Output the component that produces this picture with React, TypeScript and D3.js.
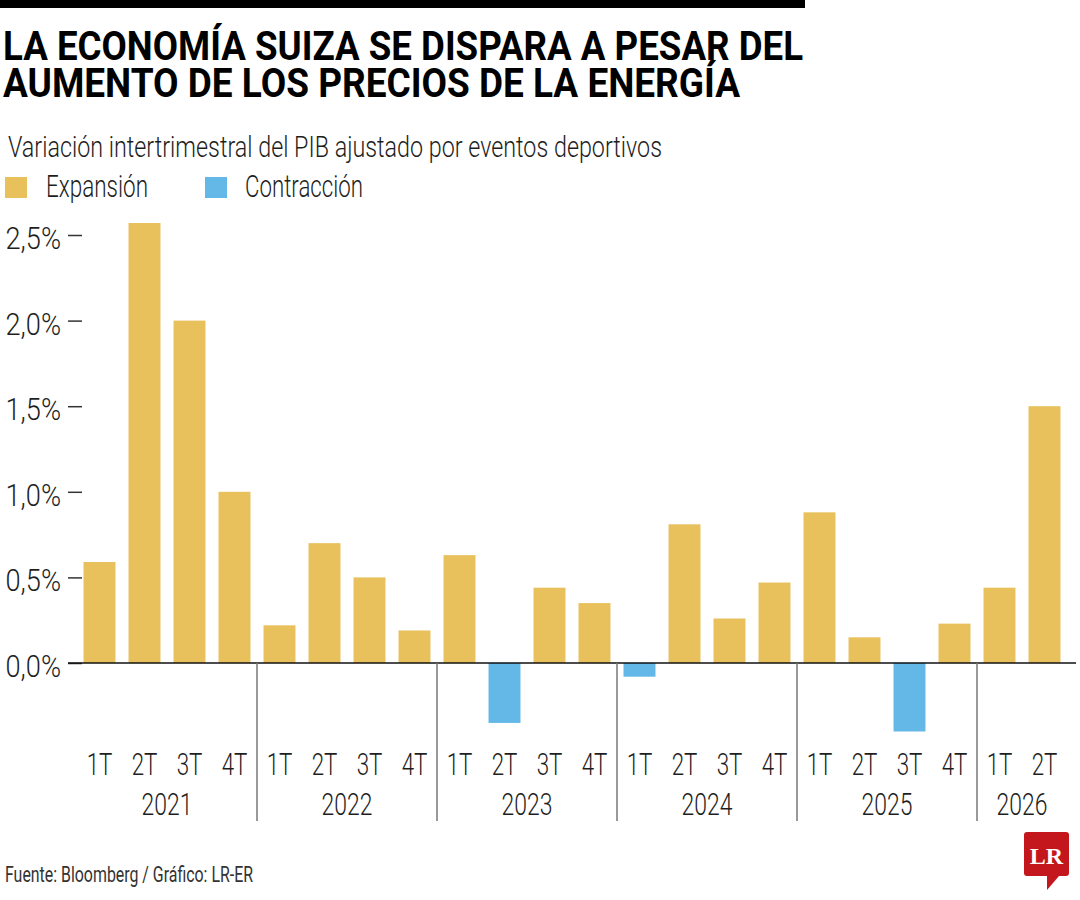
import React, { useEffect, useRef } from 'react';
import * as d3 from 'd3';

// Datos: variación intertrimestral del PIB suizo (%)
const years = ['2021', '2022', '2023', '2024', '2025', '2026'];
const quarters = ['1T', '2T', '3T', '4T'];
const gdpChange = [
  0.59, 2.57, 2.0, 1.0,
  0.22, 0.70, 0.50, 0.19,
  0.63, -0.35, 0.44, 0.35,
  -0.08, 0.81, 0.26, 0.47,
  0.88, 0.15, -0.40, 0.23,
  0.44, 1.50,
];
const yTicks = [0, 0.5, 1, 1.5, 2, 2.5];
const legendLabels = ['Expansión', 'Contracción'];

const GOLD = '#E8C15C';
const BLUE = '#63B8E8';
const LIGHT = 'Roboto, "DejaVu Sans Condensed", sans-serif';
const INK = '#1e1e1e';

const fmt = (d: number) => `${d.toFixed(1).replace('.', ',')}%`;

const App: React.FC = () => {
  const chartRef = useRef<SVGSVGElement>(null);

  useEffect(() => {
    drawChart();
  }, []);

  const drawChart = () => {
    const svg = d3.select(chartRef.current);
    svg.selectAll('*').remove();

    const periods = years
      .flatMap((y) => quarters.map((q) => `${q} ${y}`))
      .slice(0, gdpChange.length);
    const data = periods.map((p, i) => ({ period: p, quarter: p.split(' ')[0], year: p.split(' ')[1], value: gdpChange[i] }));

    // top black rule
    svg.append('rect').attr('x', 0).attr('y', 0).attr('width', 805).attr('height', 8).attr('fill', '#000');

    // title
    const title = svg.append('g')
      .attr('font-family', 'Roboto, sans-serif')
      .attr('font-weight', 700)
      .attr('font-size', 41)
      .attr('fill', '#000');
    title.append('text').attr('x', 3).attr('y', 60)
      .attr('textLength', 800).attr('lengthAdjust', 'spacingAndGlyphs')
      .text('LA ECONOMÍA SUIZA SE DISPARA A PESAR DEL');
    title.append('text').attr('x', 3).attr('y', 97)
      .attr('textLength', 737).attr('lengthAdjust', 'spacingAndGlyphs')
      .text('AUMENTO DE LOS PRECIOS DE LA ENERGÍA');

    // subtitle
    svg.append('text')
      .attr('x', 8).attr('y', 157)
      .attr('font-family', LIGHT).attr('font-weight', 300).attr('font-size', 30).attr('fill', INK)
      .attr('textLength', 654).attr('lengthAdjust', 'spacingAndGlyphs')
      .text('Variación intertrimestral del PIB ajustado por eventos deportivos');

    // legend
    const legend = [
      { label: legendLabels[0], color: GOLD, sx: 5, tx: 46, tw: 102 },
      { label: legendLabels[1], color: BLUE, sx: 205, tx: 245, tw: 118 },
    ];
    legend.forEach((l) => {
      svg.append('rect').attr('x', l.sx).attr('y', 177).attr('width', 22).attr('height', 21).attr('fill', l.color);
      svg.append('text')
        .attr('x', l.tx).attr('y', 197)
        .attr('font-family', LIGHT).attr('font-weight', 300).attr('font-size', 31).attr('fill', INK)
        .attr('textLength', l.tw).attr('lengthAdjust', 'spacingAndGlyphs')
        .text(l.label);
    });

    // scales
    const x = d3.scaleBand()
      .domain(periods)
      .range([77, 1067])
      .paddingInner(0.29)
      .paddingOuter(0.145);

    const y = d3.scaleLinear()
      .domain([0, 2.5])
      .range([663, 235]);

    // bars
    svg.append('g')
      .selectAll('rect')
      .data(data)
      .enter().append('rect')
      .attr('x', (d) => x(d.period))
      .attr('y', (d) => y(Math.max(0, d.value)))
      .attr('width', x.bandwidth())
      .attr('height', (d) => Math.abs(y(d.value) - y(0)))
      .attr('fill', (d) => (d.value >= 0 ? GOLD : BLUE));

    // y axis
    const yAxis = svg.append('g')
      .attr('transform', 'translate(82,0)')
      .call(
        d3.axisLeft(y)
          .tickValues(yTicks)
          .tickSize(14)
          .tickPadding(7)
          .tickFormat((d) => fmt(d as number))
      );
    yAxis.select('.domain').remove();
    yAxis.selectAll('line').attr('stroke', '#333').attr('stroke-width', 1.5);
    yAxis.selectAll('text')
      .attr('x', 0)
      .attr('transform', 'translate(-21,0) scale(0.85,1)')
      .attr('font-family', LIGHT).attr('font-weight', 300).attr('font-size', 32).attr('fill', INK)
      .attr('dy', '0.42em');

    // zero line
    svg.append('line')
      .attr('x1', 68).attr('x2', 1076)
      .attr('y1', y(0)).attr('y2', y(0))
      .attr('stroke', '#111').attr('stroke-width', 1.5);

    // year separators
    const gap = x.step() - x.bandwidth();
    const firstOfYear = data.filter((d, i) => d.quarter === '1T' && i > 0);
    svg.append('g')
      .selectAll('line')
      .data(firstOfYear)
      .enter().append('line')
      .attr('x1', (d) => (x(d.period) as number) - gap / 2)
      .attr('x2', (d) => (x(d.period) as number) - gap / 2)
      .attr('y1', y(0)).attr('y2', 821)
      .attr('stroke', '#777').attr('stroke-width', 1.5);

    // quarter labels
    svg.append('g')
      .selectAll('text')
      .data(data)
      .enter().append('text')
      .attr('transform', (d) => `translate(${(x(d.period) as number) + x.bandwidth() / 2},775) scale(0.72,1)`)
      .attr('text-anchor', 'middle')
      .attr('font-family', LIGHT).attr('font-weight', 300).attr('font-size', 31).attr('fill', INK)
      .text((d) => d.quarter);

    // year labels
    const yearCenters = years.map((yr) => {
      const inYear = data.filter((d) => d.year === yr);
      const cx = d3.mean(inYear, (d) => (x(d.period) as number) + x.bandwidth() / 2) as number;
      return { year: yr, cx };
    });
    svg.append('g')
      .selectAll('text')
      .data(yearCenters)
      .enter().append('text')
      .attr('transform', (d) => `translate(${d.cx},815) scale(0.74,1)`)
      .attr('text-anchor', 'middle')
      .attr('font-family', LIGHT).attr('font-weight', 300).attr('font-size', 31).attr('fill', INK)
      .text((d) => d.year);

    // footer
    svg.append('text')
      .attr('x', 5).attr('y', 882)
      .attr('font-family', LIGHT).attr('font-weight', 400).attr('font-size', 22).attr('fill', '#333')
      .attr('textLength', 248).attr('lengthAdjust', 'spacingAndGlyphs')
      .text('Fuente: Bloomberg / Gráfico: LR-ER');

    // LR logo
    svg.append('path')
      .attr('d', 'M1027,832 H1066 Q1069,832 1069,835 V873 Q1069,876 1066,876 H1059 L1047,890 V876 H1027 Q1024,876 1024,873 V835 Q1024,832 1027,832 Z')
      .attr('fill', '#C4171D');
    svg.append('text')
      .attr('x', 1046.5).attr('y', 864)
      .attr('text-anchor', 'middle')
      .attr('font-family', '"Liberation Serif", "DejaVu Serif", serif')
      .attr('font-weight', 'bold').attr('font-size', 24).attr('fill', '#fff')
      .text('LR');
  };

  return (
    <svg ref={chartRef} width={1080} height={900} style={{ position: 'absolute', left: 0, top: 0, background: '#fff' }}>
      {/* D3 draws here */}
    </svg>
  );
};

export default App;
